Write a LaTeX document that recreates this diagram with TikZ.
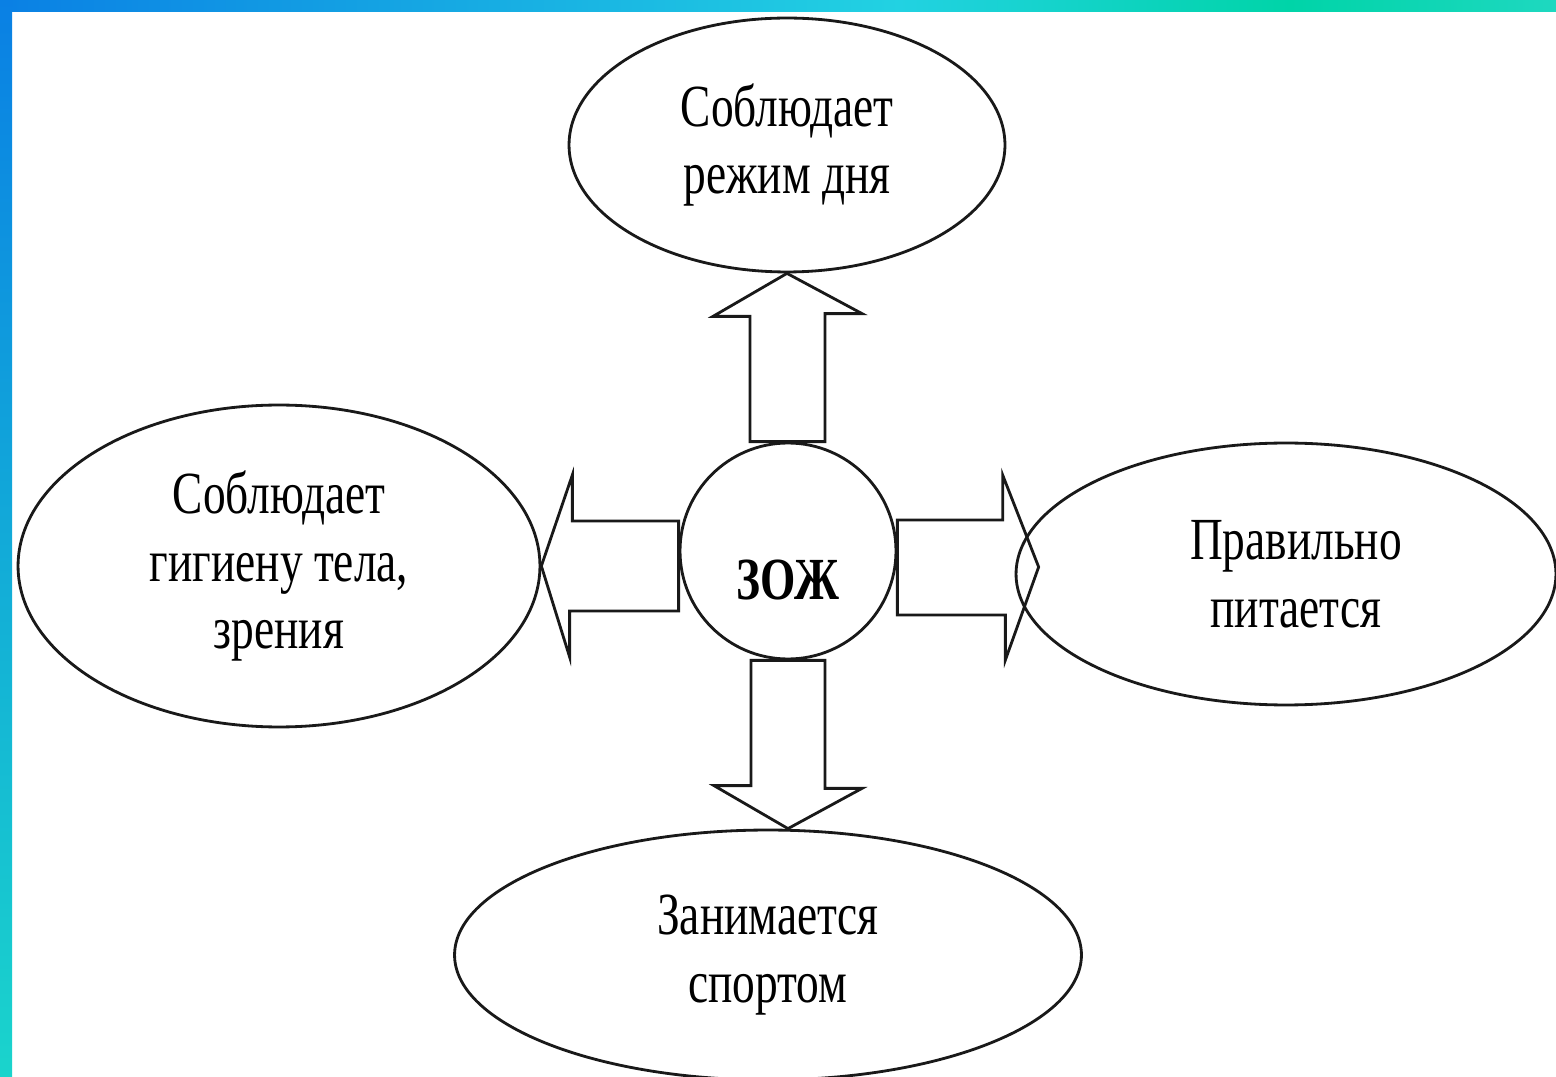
\documentclass[tikz,border=0pt]{standalone}
\usepackage{fontspec}
\setmainfont{Liberation Serif}[FakeStretch=0.76]
\usepackage{tikz}
\usetikzlibrary{shapes.geometric,calc}

\definecolor{barblue}{RGB}{10,128,228}
\definecolor{barcyan}{RGB}{34,210,226}
\definecolor{bargreen}{RGB}{0,212,168}
\definecolor{barmint}{RGB}{30,216,192}
\definecolor{barteal}{RGB}{26,212,204}

\tikzset{
  idea/.style={ellipse,draw=black!90,line width=1.6pt,align=center,inner sep=0pt,
    font=\fontsize{34}{38.5}\selectfont},
  hub/.style={circle,draw=black!90,line width=1.6pt,inner sep=0pt,minimum size=4.32cm},
  blockarr/.style={draw=black!90,line width=1.6pt,line join=miter}
}

\begin{document}
\begin{tikzpicture}[x=0.02cm,y=-0.02cm]
\useasboundingbox (0,0) rectangle (1556,1077);
\clip (0,0) rectangle (1556,1077);
\fill[white] (0,0) rectangle (1556,1077);
% frame
\shade[left color=barblue,right color=barcyan] (0,0) rectangle (900,12);
\shade[left color=barcyan,right color=bargreen] (899,0) rectangle (1290,12);
\shade[left color=bargreen,right color=barmint] (1289,0) rectangle (1556,12);
\shade[top color=barblue,bottom color=barteal] (0,0) rectangle (12,1077);

% ovals
\node[idea,minimum width=8.72cm,minimum height=5.08cm] (rezhim) at (787,145) {Соблюдает\\режим дня};
\node[idea,minimum width=10.44cm,minimum height=6.44cm] (gigiena) at (279,566) {Соблюдает\\гигиену тела,\\зрения};
\node[idea,minimum width=10.8cm,minimum height=5.24cm] (pitanie) at (1286,574) {\hspace*{0.4cm}Правильно\\\hspace*{0.4cm}питается};
\node[idea,minimum width=12.54cm,minimum height=5cm] (sport) at (768,955) {Занимается\\спортом};

% centre
\node[hub,label={[yshift=-0.58cm,font=\fontsize{34}{38}\selectfont\bfseries]center:ЗОЖ}] (zoj) at (788,551) {};

% block arrows
\draw[blockarr] (rezhim.south) -- ++(-74,43) -- ++(37,0) |- (zoj.north) -- ++(37,0) -- ++(0,-128) -- ++(37,0) -- cycle;
\draw[blockarr] (zoj |- sport.north) -- ++(-74,-43) -- ++(37,0) |- (zoj.south) -- ++(37,0) -- ++(0,128) -- ++(37,0) -- cycle;
\draw[blockarr] (gigiena.east) -- ++(31,-91) -- ++(0,46) -| (zoj.west) -- ++(0,60) -- ++(-109,0) -- ++(0,46) -- cycle;
\draw[blockarr] ($(pitanie.west)+(24,-7)$) -- ++(-36,-92) -- ++(0,45) -| (zoj.east) -- ++(0,64) -- ++(108,0) -- ++(0,45) -- cycle;

\end{tikzpicture}
\end{document}
